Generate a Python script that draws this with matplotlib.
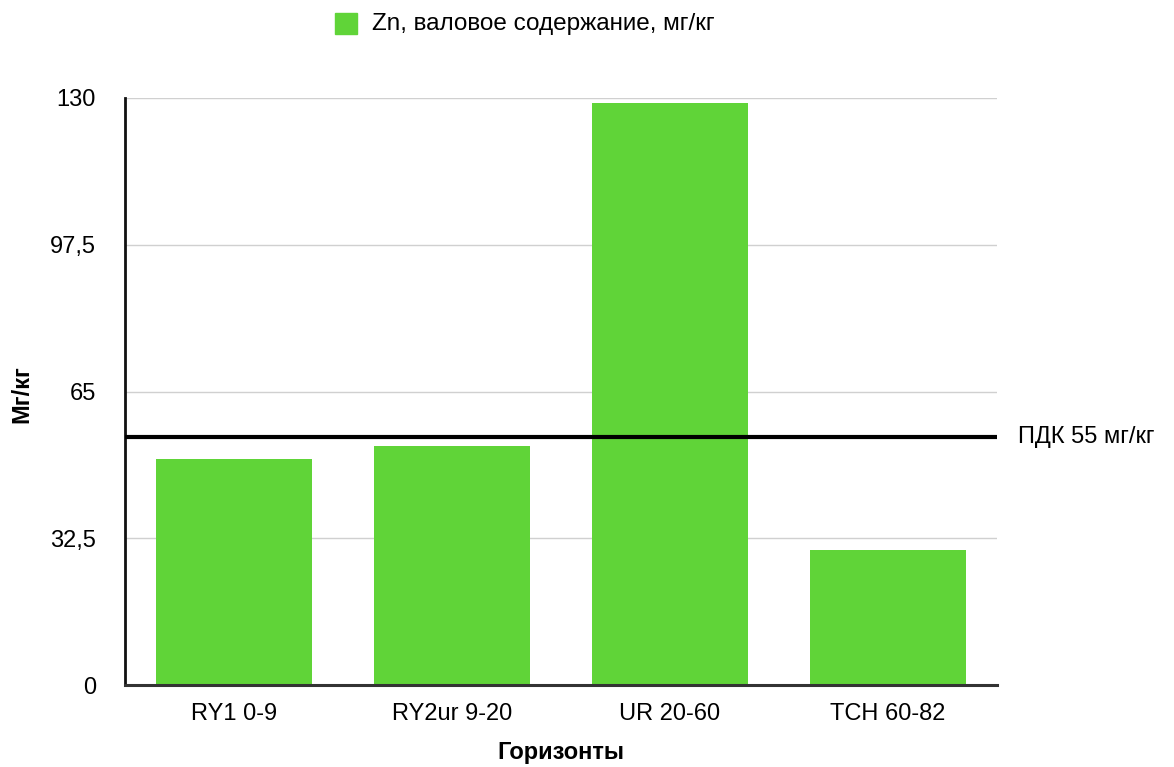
import matplotlib
matplotlib.use("Agg")
import matplotlib.pyplot as plt
from matplotlib.patches import Rectangle

categories = ["RY1 0-9", "RY2ur 9-20", "UR 20-60", "TCH 60-82"]
zn_values = [50, 53, 129, 30]
pdk_value = 55
yticks = [0, 32.5, 65, 97.5, 130]
ytick_labels = ["0", "32,5", "65", "97,5", "130"]
series_label = "Zn, валовое содержание, мг/кг"
pdk_label = "ПДК 55 мг/кг"

plt.rcParams['font.family'] = ['Liberation Sans', 'DejaVu Sans']

fig = plt.figure(figsize=(11.74, 7.67), dpi=100)
ax = fig.add_axes([125/1174, 1-685/767, (997-125)/1174, (685-98)/767])

green = "#60D438"
fs = 17
x = list(range(len(categories)))
ax.bar(x, zn_values, width=0.715, color=green, zorder=2)
ax.set_xlim(-0.5, len(categories) - 0.5)
ax.set_ylim(0, 130)
ax.set_yticks(yticks)
ax.set_yticklabels(ytick_labels, fontsize=fs)
ax.set_xticks(x)
ax.set_xticklabels(categories, fontsize=fs)
ax.tick_params(axis='both', length=0)
ax.tick_params(axis='y', pad=21)
ax.tick_params(axis='x', pad=13)
ax.grid(axis='y', color='#d0d0d0', linewidth=1, zorder=0)
ax.set_axisbelow(True)
for s in ['top', 'right']:
    ax.spines[s].set_visible(False)
ax.spines['left'].set_linewidth(2)
ax.spines['left'].set_color('#111111')
ax.spines['bottom'].set_linewidth(2.2)
ax.spines['bottom'].set_color('#333333')

ax.axhline(pdk_value, color='black', linewidth=3, zorder=3)
ax.text(1.024, pdk_value, pdk_label, transform=ax.get_yaxis_transform(),
        fontsize=fs, va='center', ha='left')

ax.set_ylabel("Мг/кг", fontsize=fs, fontweight='bold')
ax.yaxis.set_label_coords((22-125)/872, (685-394)/587)
ax.yaxis.label.set_va('center')
ax.set_xlabel("Горизонты", fontsize=fs, fontweight='bold')
ax.xaxis.set_label_coords(0.5, (685-753)/587)
ax.xaxis.label.set_va('center')

# legend
fig.patches.append(Rectangle((335/1174, 1-34/767), 22/1174, 21/767,
                             transform=fig.transFigure, color=green))
fig.text(372/1174, 1-24/767, series_label, fontsize=17.5, va='center', ha='left')

fig.savefig("out.png", dpi=100)
